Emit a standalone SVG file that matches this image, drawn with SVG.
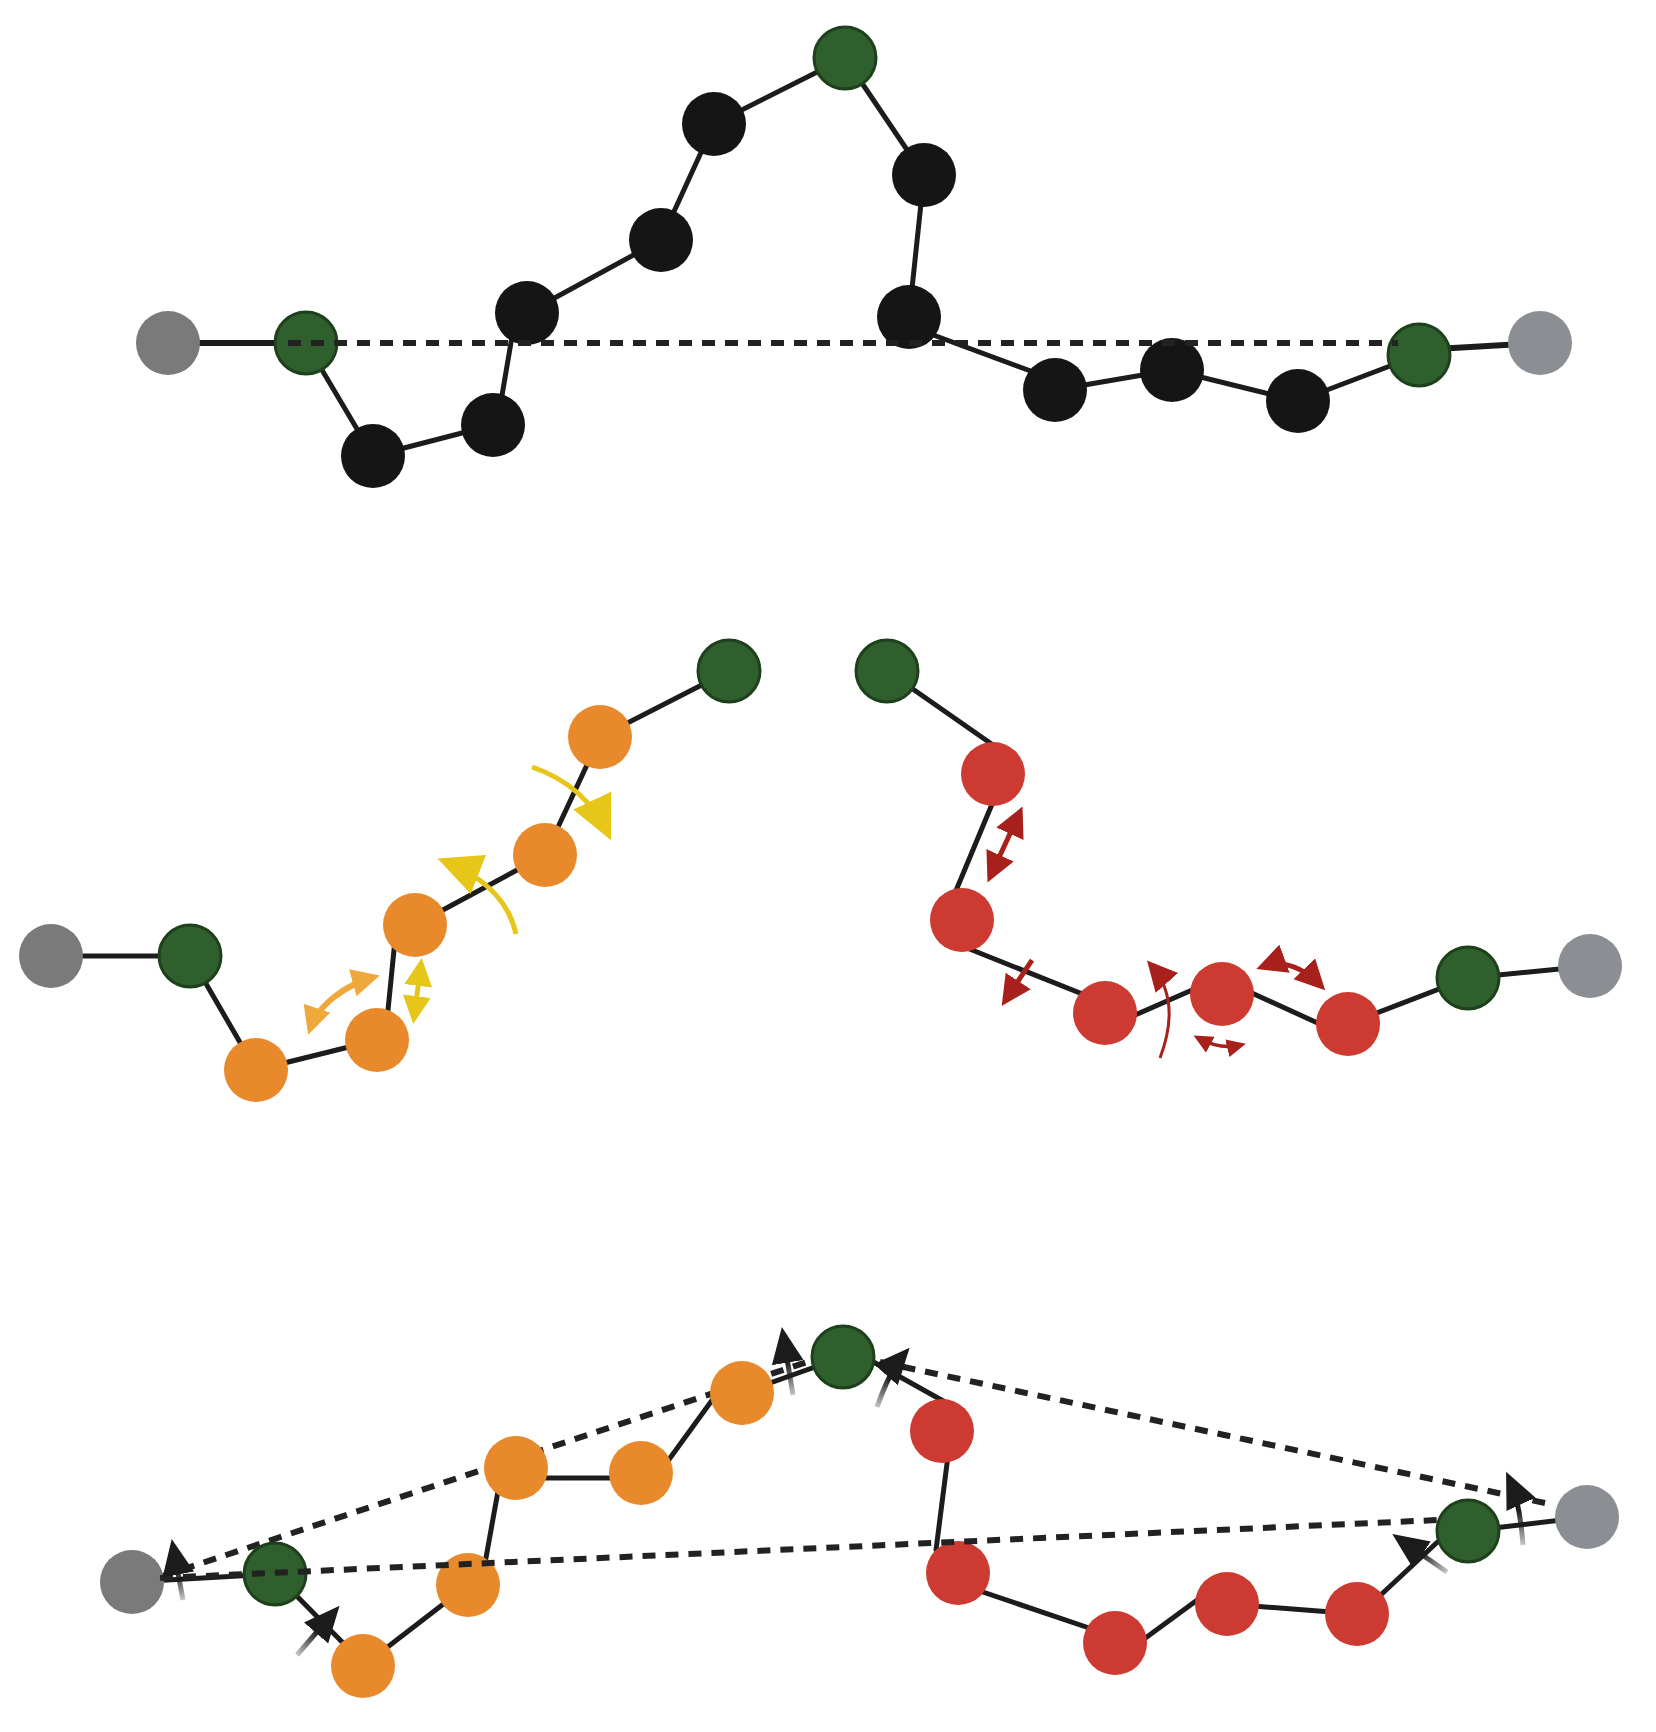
<svg xmlns="http://www.w3.org/2000/svg" width="1656" height="1732" viewBox="0 0 1656 1732">
<style>
.bg{fill:#ffffff}
.link{fill:none;stroke:#1c1c1c;stroke-width:5;stroke-linecap:round}
.dash{fill:none;stroke:#222222;stroke-width:6;stroke-dasharray:13 10}
.blk{fill:#151515}
.grn{fill:#2f5f2d;stroke:#1e401d;stroke-width:3}
.gryL{fill:#7a7a7a}
.gryR{fill:#8b8f93}
.org{fill:#e88a2c}
.red{fill:#cd3a31}
.ay{fill:none;stroke:#e6c619;stroke-width:5}
.ao{fill:none;stroke:#efa83c;stroke-width:6}
.ar{fill:none;stroke:#a8201c;stroke-width:5}
.ak{fill:none;stroke-width:5}
</style>
<defs>
<marker id="hY" markerUnits="userSpaceOnUse" markerWidth="46" markerHeight="44" refX="37" refY="21" orient="auto-start-reverse" viewBox="0 0 46 44"><path d="M0,0 L44,21 L0,42 z" fill="#e6c619"/></marker>
<marker id="hYs" markerUnits="userSpaceOnUse" markerWidth="30" markerHeight="30" refX="22" refY="14" orient="auto-start-reverse" viewBox="0 0 30 30"><path d="M0,0 L28,14 L0,28 z" fill="#e6c619"/></marker>
<marker id="hO" markerUnits="userSpaceOnUse" markerWidth="30" markerHeight="30" refX="22" refY="14" orient="auto-start-reverse" viewBox="0 0 30 30"><path d="M0,0 L28,14 L0,28 z" fill="#efa83c"/></marker>
<marker id="hR" markerUnits="userSpaceOnUse" markerWidth="32" markerHeight="32" refX="24" refY="15" orient="auto-start-reverse" viewBox="0 0 32 32"><path d="M0,0 L30,15 L0,30 z" fill="#a8201c"/></marker>
<marker id="hRs" markerUnits="userSpaceOnUse" markerWidth="20" markerHeight="20" refX="14" refY="9" orient="auto-start-reverse" viewBox="0 0 20 20"><path d="M0,0 L19,9 L0,18 z" fill="#a8201c"/></marker>
<marker id="hK" markerUnits="userSpaceOnUse" markerWidth="38" markerHeight="34" refX="29" refY="16" orient="auto" viewBox="0 0 38 34"><path d="M0,0 L36,16 L0,32 z" fill="#1c1c1c"/></marker>
<linearGradient id="gk1" gradientUnits="userSpaceOnUse" x1="183" y1="1600" x2="178" y2="1570"><stop offset="0" stop-color="#1c1c1c" stop-opacity="0.25"/><stop offset="1" stop-color="#1c1c1c"/></linearGradient>
<linearGradient id="gk2" gradientUnits="userSpaceOnUse" x1="297" y1="1655" x2="318" y2="1632"><stop offset="0" stop-color="#1c1c1c" stop-opacity="0.25"/><stop offset="1" stop-color="#1c1c1c"/></linearGradient>
<linearGradient id="gk3" gradientUnits="userSpaceOnUse" x1="793" y1="1395" x2="788" y2="1362"><stop offset="0" stop-color="#1c1c1c" stop-opacity="0.25"/><stop offset="1" stop-color="#1c1c1c"/></linearGradient>
<linearGradient id="gk4" gradientUnits="userSpaceOnUse" x1="877" y1="1407" x2="890" y2="1378"><stop offset="0" stop-color="#1c1c1c" stop-opacity="0.25"/><stop offset="1" stop-color="#1c1c1c"/></linearGradient>
<linearGradient id="gk5" gradientUnits="userSpaceOnUse" x1="1447" y1="1572" x2="1420" y2="1553"><stop offset="0" stop-color="#1c1c1c" stop-opacity="0.25"/><stop offset="1" stop-color="#1c1c1c"/></linearGradient>
<linearGradient id="gk6" gradientUnits="userSpaceOnUse" x1="1523" y1="1545" x2="1520" y2="1510"><stop offset="0" stop-color="#1c1c1c" stop-opacity="0.25"/><stop offset="1" stop-color="#1c1c1c"/></linearGradient>
</defs>
<rect class="bg" x="0" y="0" width="1656" height="1732"/>

<g id="connectors">
  <!-- top row -->
  <line class="link" style="stroke-width:6" x1="168" y1="343" x2="306" y2="343"/>
  <line class="link" x1="306" y1="343" x2="373" y2="456"/>
  <line class="link" x1="373" y1="456" x2="493" y2="425"/>
  <line class="link" x1="497" y1="425" x2="516" y2="313"/>
  <line class="link" x1="527" y1="313" x2="661" y2="240"/>
  <line class="link" x1="661" y1="240" x2="714" y2="124"/>
  <line class="link" x1="714" y1="124" x2="845" y2="58"/>
  <line class="link" x1="845" y1="58" x2="924" y2="175"/>
  <line class="link" x1="924" y1="175" x2="909" y2="317"/>
  <line class="link" x1="909" y1="326" x2="1055" y2="380"/>
  <line class="link" x1="1055" y1="390" x2="1172" y2="370"/>
  <line class="link" x1="1172" y1="370" x2="1298" y2="401"/>
  <line class="link" x1="1298" y1="401" x2="1419" y2="355"/>
  <line class="link" style="stroke-width:6" x1="1419" y1="350" x2="1540" y2="343"/>
  <!-- middle row -->
  <polyline class="link" points="51,956 190,956 256,1070 377,1040"/>
  <line class="link" x1="387" y1="1020" x2="395" y2="940"/>
  <polyline class="link" points="415,925 545,855 600,737 729,671"/>
  <line class="link" x1="887" y1="671" x2="993" y2="745"/>
  <line class="link" x1="1000" y1="785" x2="950" y2="905"/>
  <line class="link" x1="962" y1="946" x2="1105" y2="1003"/>
  <line class="link" x1="1110" y1="1026" x2="1215" y2="980"/>
  <line class="link" x1="1230" y1="983" x2="1322" y2="1025"/>
  <polyline class="link" points="1348,1024 1468,978 1590,966"/>
  <!-- bottom row -->
  <line class="link" x1="132" y1="1582" x2="275" y2="1574"/>
  <line class="link" x1="275" y1="1574" x2="350" y2="1650"/>
  <line class="link" x1="363" y1="1666" x2="468" y2="1585"/>
  <line class="link" x1="482" y1="1580" x2="500" y2="1480"/>
  <line class="link" x1="516" y1="1478" x2="641" y2="1478"/>
  <line class="link" x1="665" y1="1465" x2="718" y2="1392"/>
  <line class="link" x1="742" y1="1393" x2="843" y2="1357"/>
  <line class="link" x1="843" y1="1345" x2="945" y2="1402"/>
  <line class="link" x1="950" y1="1440" x2="936" y2="1550"/>
  <line class="link" x1="965" y1="1586" x2="1095" y2="1630"/>
  <line class="link" x1="1140" y1="1642" x2="1200" y2="1598"/>
  <line class="link" x1="1227" y1="1604" x2="1357" y2="1614"/>
  <line class="link" x1="1370" y1="1605" x2="1445" y2="1535"/>
  <line class="link" x1="1468" y1="1531" x2="1587" y2="1517"/>
  <line class="dash" x1="160" y1="1577" x2="843" y2="1350"/>
  <line class="dash" x1="880" y1="1362" x2="1545" y2="1503"/>
</g>

<g id="top-row">
  <g id="t-grey-l"><circle class="gryL" cx="168" cy="343" r="32"/></g>
  <g id="t-green-l"><circle class="grn" cx="306" cy="343" r="31"/></g>
  <g id="t-b1"><circle class="blk" cx="373" cy="456" r="32"/></g>
  <g id="t-b2"><circle class="blk" cx="493" cy="425" r="32"/></g>
  <g id="t-b3"><circle class="blk" cx="527" cy="313" r="32"/></g>
  <g id="t-b4"><circle class="blk" cx="661" cy="240" r="32"/></g>
  <g id="t-b5"><circle class="blk" cx="714" cy="124" r="32"/></g>
  <g id="t-green-top"><circle class="grn" cx="845" cy="58" r="31"/></g>
  <g id="t-b6"><circle class="blk" cx="924" cy="175" r="32"/></g>
  <g id="t-b7"><circle class="blk" cx="909" cy="317" r="32"/></g>
  <g id="t-b8"><circle class="blk" cx="1055" cy="390" r="32"/></g>
  <g id="t-b9"><circle class="blk" cx="1172" cy="370" r="32"/></g>
  <g id="t-b10"><circle class="blk" cx="1298" cy="401" r="32"/></g>
  <g id="t-green-r"><circle class="grn" cx="1419" cy="355" r="31"/></g>
  <g id="t-grey-r"><circle class="gryR" cx="1540" cy="343" r="32"/></g>
</g>

<g id="middle-row">
  <g id="m-grey-l"><circle class="gryL" cx="51" cy="956" r="32"/></g>
  <g id="m-green-l"><circle class="grn" cx="190" cy="956" r="31"/></g>
  <g id="m-o1"><circle class="org" cx="256" cy="1070" r="32"/></g>
  <g id="m-o2"><circle class="org" cx="377" cy="1040" r="32"/></g>
  <g id="m-o3"><circle class="org" cx="415" cy="925" r="32"/></g>
  <g id="m-o4"><circle class="org" cx="545" cy="855" r="32"/></g>
  <g id="m-o5"><circle class="org" cx="600" cy="737" r="32"/></g>
  <g id="m-green-t1"><circle class="grn" cx="729" cy="671" r="31"/></g>
  <g id="m-green-t2"><circle class="grn" cx="887" cy="671" r="31"/></g>
  <g id="m-r1"><circle class="red" cx="993" cy="774" r="32"/></g>
  <g id="m-r2"><circle class="red" cx="962" cy="920" r="32"/></g>
  <g id="m-r3"><circle class="red" cx="1105" cy="1013" r="32"/></g>
  <g id="m-r4"><circle class="red" cx="1222" cy="994" r="32"/></g>
  <g id="m-r5"><circle class="red" cx="1348" cy="1024" r="32"/></g>
  <g id="m-green-r"><circle class="grn" cx="1468" cy="978" r="31"/></g>
  <g id="m-grey-r"><circle class="gryR" cx="1590" cy="966" r="32"/></g>
</g>

<g id="bottom-row">
  <g id="b-grey-l"><circle class="gryL" cx="132" cy="1582" r="32"/></g>
  <g id="b-green-l"><circle class="grn" cx="275" cy="1574" r="31"/></g>
  <g id="b-o1"><circle class="org" cx="363" cy="1666" r="32"/></g>
  <g id="b-o2"><circle class="org" cx="468" cy="1585" r="32"/></g>
  <g id="b-o3"><circle class="org" cx="516" cy="1468" r="32"/></g>
  <g id="b-o4"><circle class="org" cx="641" cy="1473" r="32"/></g>
  <g id="b-o5"><circle class="org" cx="742" cy="1393" r="32"/></g>
  <g id="b-green-t"><circle class="grn" cx="843" cy="1357" r="31"/></g>
  <g id="b-r1"><circle class="red" cx="942" cy="1431" r="32"/></g>
  <g id="b-r2"><circle class="red" cx="958" cy="1573" r="32"/></g>
  <g id="b-r3"><circle class="red" cx="1115" cy="1643" r="32"/></g>
  <g id="b-r4"><circle class="red" cx="1227" cy="1604" r="32"/></g>
  <g id="b-r5"><circle class="red" cx="1357" cy="1614" r="32"/></g>
  <g id="b-green-r"><circle class="grn" cx="1468" cy="1531" r="31"/></g>
  <g id="b-grey-r"><circle class="gryR" cx="1587" cy="1517" r="32"/></g>
</g>

<g id="overlay-connectors">
  <line class="dash" x1="288" y1="343" x2="1398" y2="343"/>
  <line class="dash" x1="160" y1="1578" x2="1438" y2="1520"/>
  <!-- yellow / orange motion arrows -->
  <path class="ay" d="M516,934 Q505,885 444,861" marker-end="url(#hY)"/>
  <path class="ay" d="M532,767 Q585,785 608,834" marker-end="url(#hY)"/>
  <path class="ao" d="M310,1029 C318,1005 345,985 374,977" marker-start="url(#hO)" marker-end="url(#hO)"/>
  <path class="ay" d="M421,964 L414,1018" marker-start="url(#hYs)" marker-end="url(#hYs)"/>
  <!-- red motion arrows -->
  <path class="ar" d="M1020,812 L990,877" marker-start="url(#hR)" marker-end="url(#hR)"/>
  <path class="ar" d="M1032,960 L1005,1001" marker-end="url(#hR)"/>
  <path class="ar" style="stroke-width:3" d="M1160,1058 Q1182,1000 1151,965" marker-end="url(#hR)"/>
  <path class="ar" d="M1262,967 Q1292,956 1321,986" marker-start="url(#hR)" marker-end="url(#hR)"/>
  <path class="ar" style="stroke-width:3.5" d="M1198,1038 Q1220,1050 1241,1045" marker-start="url(#hRs)" marker-end="url(#hRs)"/>
  <!-- black force arrows -->
  <path class="ak" stroke="url(#gk1)" d="M183,1600 L173,1546" marker-end="url(#hK)"/>
  <path class="ak" stroke="url(#gk2)" d="M297,1655 L335,1611" marker-end="url(#hK)"/>
  <path class="ak" stroke="url(#gk3)" d="M793,1395 L783,1334" marker-end="url(#hK)"/>
  <path class="ak" stroke="url(#gk4)" d="M877,1407 Q890,1370 905,1353" marker-end="url(#hK)"/>
  <path class="ak" stroke="url(#gk5)" d="M1447,1572 L1398,1538" marker-end="url(#hK)"/>
  <path class="ak" stroke="url(#gk6)" d="M1523,1545 Q1520,1502 1509,1478" marker-end="url(#hK)"/>
</g>
</svg>
